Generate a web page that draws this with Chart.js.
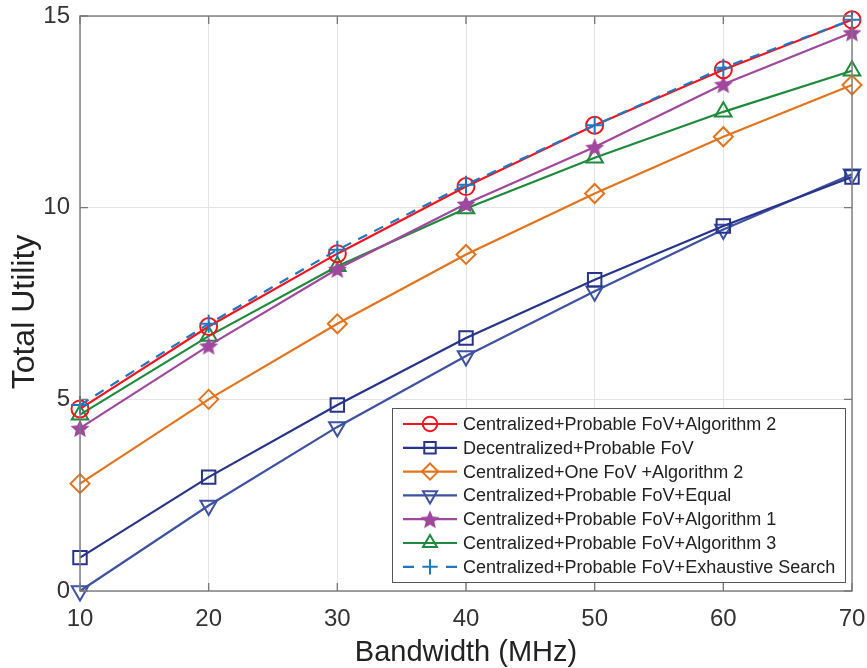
<!DOCTYPE html>
<html>
<head>
<meta charset="utf-8">
<script src="https://cdn.jsdelivr.net/npm/chart.js@4/dist/chart.umd.min.js"></script>
<style>
  html, body { margin: 0; padding: 0; background: #fff; }
  #wrap { width: 867px; height: 668px; }
</style>
</head>
<body>
<div id="wrap"><canvas id="grafico" width="867" height="668"></canvas></div>
<script>
// valores
const bandwidth = [10, 20, 30, 40, 50, 60, 70];
const centAlg2 = [4.75, 6.9, 8.8, 10.55, 12.15, 13.6, 14.9];
const decentral = [0.87, 2.97, 4.85, 6.6, 8.12, 9.52, 10.8];
const oneFovAlg2 = [2.8, 5.0, 6.97, 8.78, 10.37, 11.85, 13.2];
const centEqual = [0.0, 2.23, 4.28, 6.13, 7.82, 9.43, 10.87];
const centAlg1 = [4.25, 6.4, 8.4, 10.1, 11.58, 13.22, 14.57];
const centAlg3 = [4.6, 6.65, 8.47, 9.98, 11.3, 12.5, 13.57];
const exhaustive = [4.85, 6.97, 8.9, 10.6, 12.15, 13.65, 14.9];

const xTicks = [10, 20, 30, 40, 50, 60, 70];
const yTicks = [0, 5, 10, 15];

const fonte = "'Liberation Sans', Arial, Helvetica, sans-serif";
const corTexto = "#333333";

// estrela cheia (o 'star' do Chart.js é só um asterisco)
function criaEstrela(cor, r) {
  const c = document.createElement("canvas");
  const s = Math.ceil(r * 2 + 4);
  c.width = s; c.height = s;
  const g = c.getContext("2d");
  g.translate(s / 2, s / 2 + 1);
  g.beginPath();
  for (let i = 0; i < 10; i++) {
    const rr = i % 2 === 0 ? r : r * 0.45;
    const a = -Math.PI / 2 + i * Math.PI / 5;
    g.lineTo(rr * Math.cos(a), rr * Math.sin(a));
  }
  g.closePath();
  g.fillStyle = cor;
  g.fill();
  return c;
}
const estrela = criaEstrela("#a0479e", 10);

function serie(label, data, cor, estilo, raio, extra) {
  return Object.assign({
    label,
    data: data.map((v, i) => ({ x: bandwidth[i], y: v })),
    borderColor: cor,
    backgroundColor: "transparent",
    pointBorderColor: cor,
    pointBackgroundColor: "transparent",
    pointStyle: estilo,
    pointRadius: raio,
    pointBorderWidth: 2,
    borderWidth: 2.2,
    tension: 0,
    clip: false,
  }, extra || {});
}

const datasets = [
  serie("Centralized+Probable FoV+Algorithm 2", centAlg2, "#f5141e", "circle", 8.5),
  serie("Decentralized+Probable FoV", decentral, "#27348b", "rect", 9.5),
  serie("Centralized+One FoV +Algorithm 2", oneFovAlg2, "#e3741e", "rectRot", 9.5),
  serie("Centralized+Probable FoV+Equal", centEqual, "#3d52a3", "triangle", 9.5, { pointRotation: 180 }),
  serie("Centralized+Probable FoV+Algorithm 1", centAlg1, "#a0479e", estrela, 10),
  serie("Centralized+Probable FoV+Algorithm 3", centAlg3, "#1f8a3c", "triangle", 9.5),
  serie("Centralized+Probable FoV+Exhaustive Search", exhaustive, "#1f77c0", "cross", 9, { borderDash: [10, 8] }),
];
// ordem de desenho: exaustiva por cima da vermelha
datasets.forEach((d, i) => { d.order = i === 6 ? -1 : i; });

// marcador na legenda
function desenhaMarcador(ctx, ds, x, y) {
  ctx.save();
  ctx.strokeStyle = ds.borderColor;
  ctx.lineWidth = 2;
  ctx.setLineDash([]);
  const r = ds.pointRadius * 0.85;
  const st = ds.pointStyle;
  ctx.beginPath();
  if (st === "circle") {
    ctx.arc(x, y, r, 0, Math.PI * 2);
  } else if (st === "rect") {
    const h = r * Math.SQRT1_2;
    ctx.rect(x - h, y - h, h * 2, h * 2);
  } else if (st === "rectRot") {
    ctx.moveTo(x, y - r); ctx.lineTo(x + r, y); ctx.lineTo(x, y + r); ctx.lineTo(x - r, y); ctx.closePath();
  } else if (st === "triangle") {
    const rot = ds.pointRotation === 180 ? -1 : 1;
    for (let k = 0; k < 3; k++) {
      const a = -Math.PI / 2 + k * 2 * Math.PI / 3;
      ctx.lineTo(x + r * Math.cos(a), y + rot * r * Math.sin(a));
    }
    ctx.closePath();
  } else if (st === "cross") {
    ctx.moveTo(x - r, y); ctx.lineTo(x + r, y); ctx.moveTo(x, y - r); ctx.lineTo(x, y + r);
  } else {
    ctx.drawImage(st, x - st.width / 2, y - st.height / 2);
  }
  ctx.stroke();
  ctx.restore();
}

// moldura, ticks para dentro, título do eixo y e legenda dentro do gráfico (estilo MATLAB)
const molduraLegenda = {
  id: "molduraLegenda",
  afterDraw(chart) {
    const ctx = chart.ctx;
    const a = chart.chartArea;
    const sx = chart.scales.x, sy = chart.scales.y;
    ctx.save();
    ctx.strokeStyle = "#7a7a7a";
    ctx.lineWidth = 1.4;
    ctx.strokeRect(a.left, a.top, a.right - a.left, a.bottom - a.top);
    ctx.beginPath();
    xTicks.forEach(t => {
      const px = sx.getPixelForValue(t);
      ctx.moveTo(px, a.bottom); ctx.lineTo(px, a.bottom - 8);
      ctx.moveTo(px, a.top); ctx.lineTo(px, a.top + 8);
    });
    yTicks.forEach(t => {
      const py = sy.getPixelForValue(t);
      ctx.moveTo(a.left, py); ctx.lineTo(a.left + 8, py);
      ctx.moveTo(a.right, py); ctx.lineTo(a.right - 8, py);
    });
    ctx.stroke();

    // título do eixo y
    ctx.save();
    ctx.translate(25, 312);
    ctx.rotate(-Math.PI / 2);
    ctx.fillStyle = "#222";
    ctx.font = "32px " + fonte;
    ctx.textAlign = "center";
    ctx.textBaseline = "middle";
    ctx.fillText("Total Utility", 0, 0);
    ctx.restore();

    // legenda
    const bx = 392, by = 408, bw = 453, bh = 174;
    ctx.fillStyle = "#fff";
    ctx.fillRect(bx, by, bw, bh);
    ctx.strokeStyle = "#555";
    ctx.lineWidth = 1;
    ctx.strokeRect(bx + 0.5, by + 0.5, bw, bh);
    const dsList = chart.data.datasets;
    dsList.forEach((ds, i) => {
      const y = by + 16 + i * 23.8;
      ctx.save();
      ctx.strokeStyle = ds.borderColor;
      ctx.lineWidth = 2.2;
      ctx.beginPath();
      if (ds.borderDash) {
        ctx.moveTo(403, y); ctx.lineTo(414, y);
        ctx.moveTo(446, y); ctx.lineTo(457, y);
      } else {
        ctx.moveTo(403, y); ctx.lineTo(457, y);
      }
      ctx.stroke();
      ctx.restore();
      desenhaMarcador(ctx, ds, 430, y);
      ctx.fillStyle = "#222";
      ctx.font = "18px " + fonte;
      ctx.textBaseline = "middle";
      ctx.textAlign = "left";
      ctx.fillText(ds.label, 463, y + 1);
    });
    ctx.restore();
  }
};

function semPadding(s) {
  s.paddingLeft = 0; s.paddingRight = 0; s.paddingTop = 0; s.paddingBottom = 0;
}

new Chart(document.getElementById("grafico"), {
  type: "line",
  data: { datasets },
  options: {
    responsive: false,
    animation: false,
    layout: { padding: { top: 16, right: 15, left: 0, bottom: 0 } },
    plugins: { legend: { display: false }, tooltip: { enabled: false } },
    scales: {
      x: {
        type: "linear",
        min: 10, max: 70,
        afterBuildTicks: s => { s.ticks = xTicks.map(v => ({ value: v })); },
        afterFit: s => { s.height = 77; semPadding(s); },
        grid: { color: "#e3e3e3", lineWidth: 1, drawTicks: false },
        border: { display: false },
        ticks: { color: corTexto, font: { family: fonte, size: 24 }, padding: 14, maxRotation: 0 },
        title: { display: true, text: "Bandwidth (MHz)", color: "#222", font: { family: fonte, size: 29, lineHeight: 1.0 }, padding: { top: 4, bottom: 1 } },
      },
      y: {
        min: 0, max: 15,
        afterBuildTicks: s => { s.ticks = yTicks.map(v => ({ value: v })); },
        afterFit: s => { s.width = 80; semPadding(s); },
        grid: { color: "#e3e3e3", lineWidth: 1, drawTicks: false },
        border: { display: false },
        ticks: { color: corTexto, font: { family: fonte, size: 24 }, padding: 10 },
      },
    },
  },
  plugins: [molduraLegenda],
});
</script>
</body>
</html>
